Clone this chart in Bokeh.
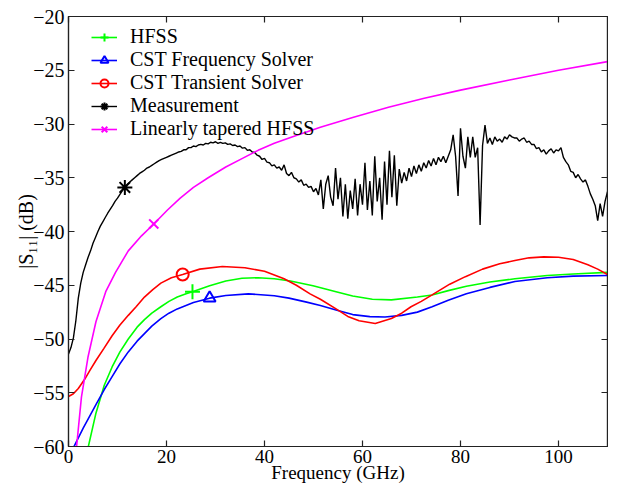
from bokeh.plotting import figure
from bokeh.models import Range1d, LinearAxis, Legend, LegendItem, FixedTicker
from bokeh.embed import file_html
from bokeh.resources import INLINE
import numpy as np

# ---------------- data ----------------
hfss_f = [3.9, 5.6, 7.3, 8.9, 10.5, 12.2, 14.0, 15.5, 17.0, 18.85, 20.5, 22.2, 24.0, 25.3,
          28.8, 32.1, 35.4, 38.7, 42.0, 45.3, 49.9, 54.6, 58.0, 62.0, 65.9, 71.2, 74.2,
          77.5, 81.2, 86.0, 91.1, 97.7, 103.0, 110.0]
hfss_db = [-60.3, -56.9, -54.3, -52.6, -51.2, -50.0, -48.9, -48.2, -47.6, -47.0, -46.5, -46.1,
           -45.8, -45.6, -45.05, -44.6, -44.35, -44.3, -44.4, -44.6, -45.05, -45.6, -46.0,
           -46.3, -46.36, -46.1, -45.9, -45.5, -45.1, -44.7, -44.4, -44.1, -43.95, -43.8]

cstf_f = [0.9, 3.0, 5.6, 7.3, 8.9, 10.5, 12.2, 14.0, 15.5, 17.0, 18.85, 20.5, 22.2, 25.5,
          28.8, 32.1, 36.7, 42.0, 45.0, 48.6, 51.4, 54.6, 58.0, 61.5, 64.6, 68.0, 71.2,
          74.2, 77.5, 81.2, 86.0, 91.1, 97.7, 103.0, 110.0]
cstf_db = [-60.2, -58.3, -56.1, -54.7, -53.5, -52.3, -51.2, -50.2, -49.5, -48.8, -48.1, -47.6,
           -47.2, -46.6, -46.2, -45.95, -45.8, -45.97, -46.2, -46.57, -46.88, -47.3, -47.73,
           -47.92, -47.95, -47.8, -47.5, -47.0, -46.4, -45.8, -45.2, -44.65, -44.3, -44.15, -44.1]

cstt_f = [0.0, 1.0, 2.0, 3.3, 4.4, 5.6, 7.2, 8.9, 10.5, 12.2, 13.8, 15.5, 17.2, 18.85, 21.0,
          23.3, 26.8, 31.4, 36.0, 40.0, 44.0, 46.5, 49.3, 51.4, 54.6, 57.0, 59.3, 62.6, 65.9,
          68.0, 69.9, 72.0, 74.2, 77.8, 81.0, 84.5, 88.0, 91.1, 94.0, 97.0, 100.0, 103.0,
          106.0, 108.0, 110.0]
cstt_db = [-55.35, -55.1, -54.6, -53.75, -52.9, -52.0, -50.9, -49.7, -48.7, -47.8, -47.0, -46.1,
           -45.4, -44.8, -44.3, -44.0, -43.5, -43.25, -43.37, -43.7, -44.4, -45.0, -45.8, -46.3,
           -47.2, -47.9, -48.3, -48.56, -48.1, -47.6, -47.0, -46.5, -45.9, -44.9, -44.2, -43.5,
           -43.0, -42.7, -42.45, -42.36, -42.4, -42.6, -43.1, -43.5, -44.0]

lin_f = [1.5, 1.65, 2.64, 3.97, 5.6, 7.6, 9.6, 12.2, 14.9, 17.4, 20.2, 22.8, 25.5, 28.5, 32.1,
         35.5, 38.7, 42.0, 45.6, 51.4, 58.0, 65.3, 72.6, 80.0, 90.0, 100.0, 110.0]
lin_db = [-60.5, -60.0, -55.4, -51.7, -48.4, -45.6, -43.8, -41.8, -40.4, -39.3, -38.0, -36.9,
          -35.9, -35.0, -34.0, -33.2, -32.45, -31.8, -31.2, -30.3, -29.4, -28.45, -27.6,
          -26.85, -25.9, -25.0, -24.2]

# measurement sampled every 0.5 GHz from 0 to 110 GHz
meas_f = np.arange(0, 110.01, 0.5)
meas_db = [
    -51.4, -50.8, -49.9, -48.3, -46.2, -44.8, -43.8, -43.1, -42.4, -41.8,   # 0 - 4.5
    -41.1, -40.55, -40.0, -39.5, -39.1, -38.7, -38.3, -37.95, -37.6, -37.2,  # 5 - 9.5
    -36.9, -36.55, -36.2, -35.9, -35.6, -35.4, -35.2, -35.0, -34.8, -34.6,   # 10 - 14.5
    -34.45, -34.3, -34.1, -34.0, -33.85, -33.7, -33.55, -33.4, -33.3, -33.2, # 15 - 19.5
    -33.1, -33.0, -32.9, -32.8, -32.7, -32.6, -32.55, -32.4, -32.4, -32.2,   # 20 - 24.5
    -32.2, -32.05, -32.1, -31.95, -31.9, -31.95, -31.8, -31.85, -31.7, -31.75,  # 25 - 29.5
    -31.65, -31.8, -31.7, -31.8, -31.75, -31.9, -31.85, -32.0, -31.95, -32.1,   # 30 - 34.5
    -32.05, -32.25, -32.2, -32.45, -32.4, -32.6, -32.65, -32.9, -33.0, -33.3,   # 35 - 39.5
    -33.2, -33.55, -33.6, -33.9, -33.8, -34.1, -34.0, -34.3, -33.8, -34.6,      # 40 - 44.5
    -34.8, -34.5, -35.0, -35.1, -35.4, -35.2, -35.7, -35.6, -35.9, -35.8,       # 45 - 49.5
    -36.3, -36.0, -36.6, -35.2, -37.9, -35.6, -34.8, -36.8, -37.6, -34.1,       # 50 - 54.5
    -37.0, -35.0, -38.6, -35.6, -38.8, -36.2, -37.9, -35.1, -38.5, -35.6,       # 55 - 59.5
    -37.5, -33.6, -38.0, -35.3, -38.5, -33.0, -37.2, -35.0, -38.9, -33.5,       # 60 - 64.5
    -37.5, -32.5, -36.8, -32.9, -37.6, -34.2, -35.5, -34.5, -35.3, -34.1,       # 65 - 69.5
    -34.9, -33.9, -34.6, -33.8, -34.4, -33.6, -34.1, -33.4, -33.9, -33.2,       # 70 - 74.5
    -33.8, -33.1, -33.5, -33.0, -33.6, -33.0, -32.4, -31.0, -33.0, -36.7,       # 75 - 79.5
    -30.4, -33.0, -34.1, -31.2, -33.1, -31.2, -33.1, -32.2, -39.4, -32.0,       # 80 - 84.5
    -30.1, -31.8, -31.3, -31.9, -31.2, -31.6, -31.4, -31.7, -31.2, -31.4,       # 85 - 89.5
    -31.0, -31.2, -31.3, -31.3, -31.6, -31.4, -31.3, -31.7, -31.6, -31.9,       # 90 - 94.5
    -31.9, -32.3, -32.2, -32.6, -32.4, -32.8, -32.5, -32.3, -32.7, -32.4,       # 95 - 99.5
    -32.5, -32.2, -33.1, -33.5, -33.8, -34.4, -34.5, -35.0, -34.7, -35.1,       # 100 - 104.5
    -35.4, -35.2, -35.8, -36.5, -37.0, -37.6, -39.0, -37.4, -38.6, -37.2,       # 105 - 109.5
    -36.3,                                                                       # 110
]

# index of the single marker drawn on each curve
hfss_mk, cstf_mk, cstt_mk, meas_mk, lin_mk = 13, 14, 15, 23, 9

x_ticks = [0, 20, 40, 60, 80, 100]
y_ticks = [-60, -55, -50, -45, -40, -35, -30, -25, -20]
y_tick_labels = {v: "\u2212" + str(abs(v)) for v in y_ticks}

x_label = "Frequency (GHz)"
y_label = "|S\u2081\u2081| (dB)"
names = ["HFSS", "CST Frequency Solver", "CST Transient Solver", "Measurement",
         "Linearly tapered HFSS"]

# ---------------- figure ----------------
FONT = "Liberation Serif"
AX = "#222222"
FS = "20px"
FSX = "19px"

p = figure(width=608, height=485, output_backend="svg", toolbar_location=None,
           x_range=Range1d(0, 110), y_range=Range1d(-60, -20),
           min_border_left=68, min_border_right=1, min_border_top=16, min_border_bottom=36)
p.xgrid.visible = False
p.ygrid.visible = False
p.outline_line_color = AX
p.outline_line_width = 1.2
p.background_fill_color = "white"
p.border_fill_color = "white"

def style_axis(ax, ticks, show_labels=True, fs=FS):
    ax.ticker = FixedTicker(ticks=ticks)
    ax.major_tick_in = 6
    ax.major_tick_out = 0
    ax.minor_tick_line_color = None
    ax.axis_line_color = AX
    ax.axis_line_width = 1.2
    ax.major_tick_line_color = AX
    ax.major_tick_line_width = 1.2
    ax.major_label_text_font = FONT
    if show_labels:
        ax.major_label_text_color = "black"
        ax.major_label_text_font_size = fs
        ax.major_label_standoff = 3
    else:
        ax.major_label_text_color = None
        ax.major_label_text_font_size = "0px"
        ax.major_label_standoff = 0
    ax.axis_label_text_font = FONT
    ax.axis_label_text_font_size = fs
    ax.axis_label_text_font_style = "normal"
    ax.axis_label_text_color = "black"

style_axis(p.xaxis[0], x_ticks, fs=FSX)
style_axis(p.yaxis[0], y_ticks)
p.xaxis[0].axis_label = x_label
p.xaxis[0].axis_label_standoff = -4
p.xaxis[0].major_label_standoff = 3
p.yaxis[0].axis_label = y_label
p.yaxis[0].axis_label_standoff = -7
p.yaxis[0].major_label_standoff = 4
p.yaxis[0].major_label_overrides = y_tick_labels

top = LinearAxis()
style_axis(top, x_ticks, show_labels=False)
p.add_layout(top, "above")
right = LinearAxis()
style_axis(right, y_ticks, show_labels=False)
p.add_layout(right, "right")

LW = 1.6
MW = 2.0
series = [
    (hfss_f, hfss_db, hfss_mk, "#00ff00", "cross", 15),
    (cstf_f, cstf_db, cstf_mk, "#0000ff", "triangle", 12),
    (cstt_f, cstt_db, cstt_mk, "#ff0000", "circle", 12),
    (list(meas_f), meas_db, meas_mk, "#000000", "asterisk", 15),
    (lin_f, lin_db, lin_mk, "#ff00ff", "x", 13),
]

items = []
for (fx, fy, mk, col, mtype, msize), name in zip(series, names):
    lw = 1.4 if col == "#000000" else LW
    ln = p.line(fx, fy, line_color=col, line_width=lw)
    sc = p.scatter([fx[mk]], [fy[mk]], marker=mtype, size=msize, line_color=col,
                   fill_color=None, line_width=MW)
    items.append(LegendItem(label=name, renderers=[ln, sc]))

legend = Legend(items=items, location=(23, 306), border_line_color=None,
                background_fill_alpha=0, label_text_font=FONT, label_text_font_size=FS,
                label_text_color="black", glyph_width=26, glyph_height=20, label_height=20,
                spacing=0, padding=1, margin=0, label_standoff=13)
p.add_layout(legend)

open("out.html", "w").write(file_html(p, INLINE))
